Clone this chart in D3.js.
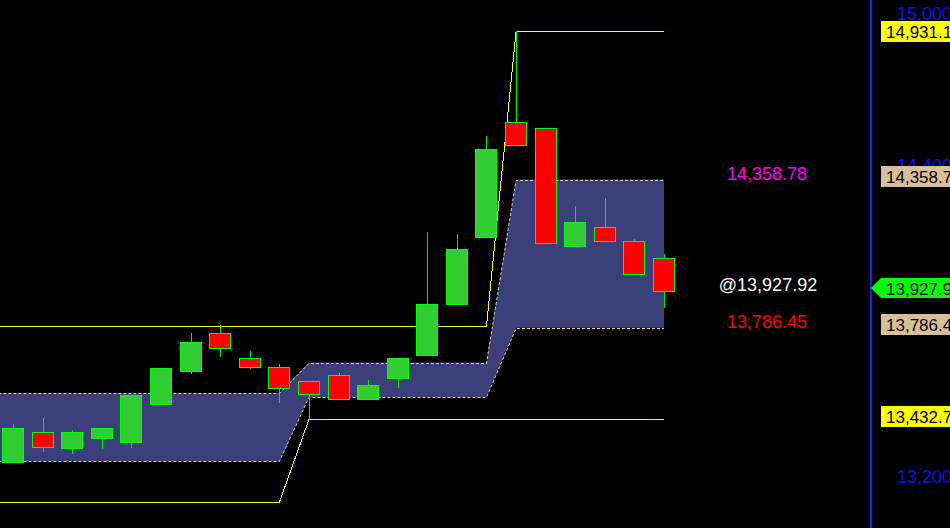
<!DOCTYPE html>
<html><head><meta charset="utf-8">
<script src="https://cdn.jsdelivr.net/npm/d3@7"></script>
<style>html,body{margin:0;padding:0;background:#000;overflow:hidden}</style>
</head><body><svg id="c" width="950" height="528"></svg>
<script>
// ---- data ----
const opens  = [13269, 13384, 13323, 13362, 13346, 13493, 13619, 13766, 13669, 13635, 13581, 13604, 13512, 13593, 13682, 13879, 14138, 14581, 14558, 14103, 14175, 14121, 14056];
const highs  = [13414, 13438, 13391, 13400, 13528, 13631, 13766, 13797, 13697, 13647, 13581, 13612, 13585, 13669, 14156, 14148, 14527, 14931, 14558, 14256, 14287, 14129, 14071];
const lows   = [13268, 13308, 13300, 13319, 13323, 13488, 13609, 13674, 13627, 13496, 13433, 13512, 13512, 13555, 13682, 13879, 14138, 14493, 14115, 14099, 14122, 13991, 13864];
const closes = [13399, 13327, 13384, 13399, 13528, 13631, 13731, 13709, 13636, 13555, 13532, 13512, 13565, 13669, 13878, 14090, 14477, 14493, 14115, 14195, 14122, 13995, 13927.92];

const sessionStarts = [0, 10, 17];
const bandUpper = [13533, 13652, 14358.78];
const bandLower = [13270, 13518, 13786.45];
const rangeHigh = [13794, 13794, 14931.1];
const rangeLow  = [13112, 13432.7, 13432.7];

const tickValues = [13200, 13800, 14400, 15000];
const priceLabels = [
  {v: 14931.1,  kind: "range"},
  {v: 14358.78, kind: "band"},
  {v: 13927.92, kind: "last"},
  {v: 13786.45, kind: "band"},
  {v: 13432.7,  kind: "range"}
];

// ---- scales ----
const W = 950, H = 528;
const svg = d3.select("#c");
svg.append("rect").attr("width", W).attr("height", H).attr("fill", "#000");

const x = d3.scaleLinear().domain([0, 22]).range([13, 664]);
const y = d3.scaleLinear().domain([13012.9, 15052]).range([H, 0]);

function sessionOf(i) {
  let s = 0;
  for (let k = 0; k < sessionStarts.length; k++) if (i >= sessionStarts[k]) s = k;
  return s;
}
const pts = d3.range(-1, closes.length).map(i => ({i, s: sessionOf(i)}));

// ---- band ----
const area = d3.area().x(d => x(d.i)).y0(d => y(bandLower[d.s])).y1(d => y(bandUpper[d.s]));
svg.append("path").datum(pts).attr("d", area).attr("fill", "#3b3f7a");
const lineOf = arr => d3.line().x(d => x(d.i)).y(d => Math.round(y(arr[d.s])) + 0.5);
[bandUpper, bandLower].forEach(arr => {
  svg.append("path").datum(pts).attr("d", lineOf(arr))
    .attr("fill", "none").attr("stroke", "#e2cfb0").attr("stroke-width", 1)
    .attr("stroke-dasharray", "3,2");
});
[rangeHigh, rangeLow].forEach(arr => {
  svg.append("path").datum(pts).attr("d", lineOf(arr))
    .attr("fill", "none").attr("stroke", "#ffff00").attr("stroke-width", 1)
    .attr("shape-rendering", "crispEdges");
});

// ---- candles ----
const cd = closes.map((c, i) => ({i, o: opens[i], h: highs[i], l: lows[i], c}));
const g = svg.append("g");
g.selectAll("line.w").data(cd).join("line")
  .attr("x1", d => Math.round(x(d.i)) + 0.5).attr("x2", d => Math.round(x(d.i)) + 0.5)
  .attr("y1", d => Math.round(y(d.h))).attr("y2", d => Math.round(y(d.l)))
  .attr("stroke", "#00ee00").attr("stroke-width", 1)
  .attr("shape-rendering", "crispEdges");
g.selectAll("rect.b").data(cd).join("rect")
  .attr("x", d => Math.round(x(d.i)) - 10.5)
  .attr("width", 21)
  .attr("y", d => Math.round(y(Math.max(d.o, d.c))) + 0.5)
  .attr("height", d => Math.max(1, Math.round(y(Math.min(d.o, d.c))) - Math.round(y(Math.max(d.o, d.c)))))
  .attr("fill", d => d.c >= d.o ? "#32cd32" : "#ff0000")
  .attr("stroke", "#00ff00").attr("stroke-width", 1);

// ---- in-chart value texts ----
const fmt2 = d3.format(",.2f");
const lastI = closes.length - 1;
const tx = x(lastI) + 103;
svg.append("text").attr("x", tx).attr("y", y(bandUpper[2])).attr("text-anchor", "middle")
  .attr("font-family", "Liberation Sans, Arial, sans-serif").attr("font-size", 18)
  .attr("fill", "#ff00ff").text(fmt2(bandUpper[2]));
svg.append("text").attr("x", tx + 1).attr("y", y(closes[lastI])).attr("text-anchor", "middle")
  .attr("font-family", "Liberation Sans, Arial, sans-serif").attr("font-size", 18)
  .attr("fill", "#ffffff").text("@" + fmt2(closes[lastI]));
svg.append("text").attr("x", tx).attr("y", y(bandLower[2])).attr("text-anchor", "middle")
  .attr("font-family", "Liberation Sans, Arial, sans-serif").attr("font-size", 18)
  .attr("fill", "#ff0000").text(fmt2(bandLower[2]));

// ---- right axis ----
const axX = 871;
svg.append("line").attr("x1", axX).attr("x2", axX).attr("y1", 0).attr("y2", H)
  .attr("stroke", "#1a1aff").attr("stroke-width", 2);
const fmt0 = d3.format(",");
svg.selectAll("text.tick").data(tickValues).join("text")
  .attr("x", 897).attr("y", d => Math.max(y(d) - 3, 14))
  .attr("dominant-baseline", "central")
  .attr("font-family", "Liberation Sans, Arial, sans-serif").attr("font-size", 18)
  .attr("fill", "#1010e6").text(d => fmt0(d) + ".0");

const colors = {range: "#ffff00", band: "#d9bf98", last: "#00ff00"};
priceLabels.forEach(p => {
  const cy = Math.round(Math.max(y(p.v) - 3.5, 31));
  if (p.kind === "last") {
    svg.append("path")
      .attr("d", `M${axX},${cy}L${axX + 10},${cy - 10}L${W},${cy - 10}L${W},${cy + 10}L${axX + 10},${cy + 10}Z`)
      .attr("fill", colors.last);
  } else {
    svg.append("rect").attr("x", axX + 10).attr("y", cy - 10).attr("width", W - axX - 10).attr("height", 21)
      .attr("fill", colors[p.kind]);
  }
  svg.append("text").attr("x", 886).attr("y", cy + 1).attr("dominant-baseline", "central")
    .attr("font-family", "Liberation Sans, Arial, sans-serif").attr("font-size", 17)
    .attr("fill", "#000").text(fmt2(p.v));
});
</script></body></html>
